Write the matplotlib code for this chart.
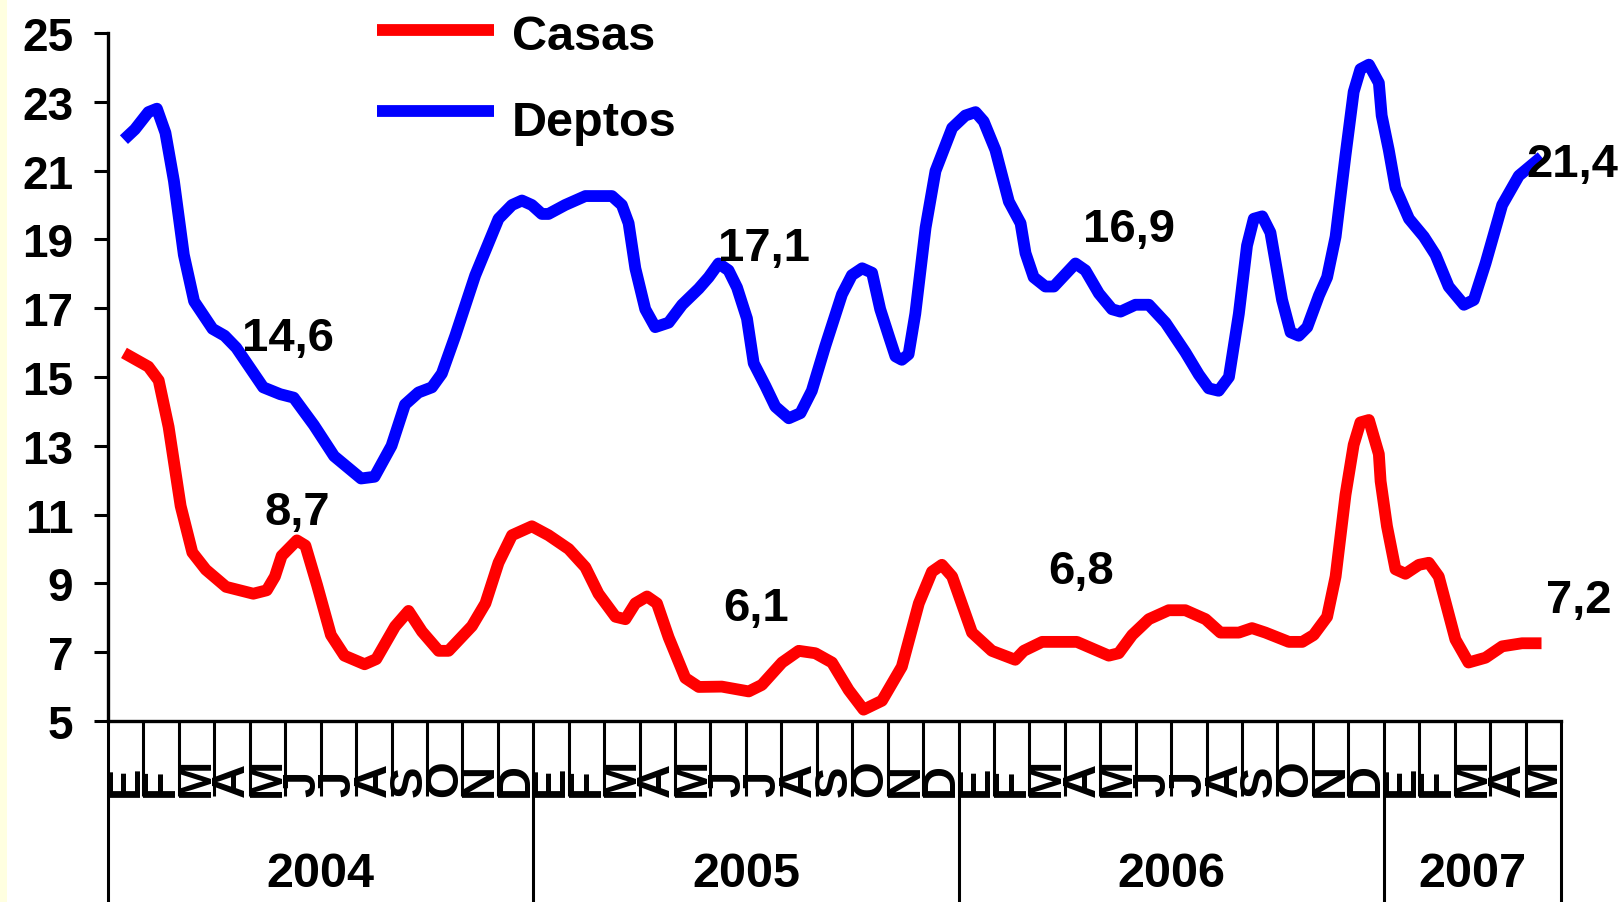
import numpy as np
import matplotlib
matplotlib.use("Agg")
import matplotlib.pyplot as plt
from matplotlib.lines import Line2D
from matplotlib.patches import Rectangle

# meses desde ene-2004 (0 = borde izquierdo) y valores
deptos_t = [0.45, 0.76, 1.14, 1.38, 1.62, 1.86, 2.14, 2.43, 2.95, 3.29, 3.62, 4.38, 4.86,
            5.24, 5.81, 6.38, 7.14, 7.52, 8.0, 8.38, 8.76, 9.14, 9.42, 9.8, 10.36, 11.02,
            11.4, 11.68, 11.96, 12.24, 12.43, 12.9, 13.47, 14.22, 14.5, 14.69, 14.88, 15.16,
            15.44, 15.82, 16.2, 16.67, 16.95, 17.23, 17.51, 17.75, 18.03, 18.22, 18.55,
            18.83, 19.21, 19.54, 19.86, 20.24, 20.71, 20.99, 21.28, 21.56, 21.79, 22.03,
            22.22, 22.4, 22.59, 22.78, 23.07, 23.35, 23.82, 24.19, 24.48, 24.71, 25.04,
            25.42, 25.75, 25.89, 26.12, 26.45, 26.69, 27.3, 27.58, 27.96, 28.33, 28.57,
            28.99, 29.37, 29.84, 30.4, 30.78, 31.06, 31.34, 31.63, 31.91, 32.14, 32.33,
            32.57, 32.8, 33.13, 33.37, 33.6, 33.84, 34.17, 34.4, 34.64, 34.92, 35.15, 35.34,
            35.58, 35.86, 35.94, 36.14, 36.33, 36.71, 37.13, 37.46, 37.83, 38.26, 38.54,
            38.87, 39.34, 39.81, 40.45]
deptos_v = [21.9, 22.2, 22.7, 22.8, 22.1, 20.7, 18.55, 17.2, 16.4, 16.2, 15.85, 14.7, 14.5,
            14.4, 13.6, 12.7, 12.05, 12.1, 13.0, 14.2, 14.55, 14.7, 15.1, 16.2, 17.95, 19.6,
            20.0, 20.13, 20.0, 19.74, 19.74, 20.0, 20.26, 20.26, 20.0, 19.47, 18.16, 16.97,
            16.45, 16.58, 17.1, 17.57, 17.9, 18.3, 18.1, 17.6, 16.7, 15.4, 14.74,
            14.14, 13.8, 13.95, 14.6, 15.9, 17.4, 17.96, 18.16, 18.03, 16.97, 16.2,
            15.6, 15.5, 15.66, 16.84, 19.34, 20.99, 22.24, 22.6, 22.7, 22.43, 21.6,
            20.1, 19.47, 18.6, 17.9, 17.63, 17.63, 18.3, 18.1, 17.43, 16.97, 16.9,
            17.1, 17.1, 16.58, 15.72, 15.07, 14.67, 14.6, 15.0, 16.84, 18.82, 19.6,
            19.67, 19.2, 17.24, 16.3, 16.2, 16.45, 17.37, 17.9, 19.08, 21.45, 23.29, 23.95,
            24.08, 23.55, 22.6, 21.6, 20.5, 19.6, 19.08, 18.55, 17.63, 17.1, 17.24,
            18.3, 20.0, 20.85, 21.4]

casas_t = [0.45, 1.14, 1.43, 1.71, 2.05, 2.38, 2.76, 3.33, 4.1, 4.48, 4.71, 4.9, 5.33, 5.57,
           5.9, 6.29, 6.67, 7.24, 7.57, 8.1, 8.48, 8.86, 9.33, 9.61, 10.27, 10.65, 11.02,
           11.4, 11.96, 12.43, 13.0, 13.47, 13.84, 14.32, 14.6, 14.88, 15.21, 15.49, 15.82,
           16.29, 16.67, 17.32, 18.08, 18.45, 19.02, 19.49, 19.96, 20.43, 20.9, 21.32,
           21.84, 22.4, 22.88, 23.25, 23.53, 23.82, 24.38, 24.94, 25.6, 25.84, 26.36,
           27.34, 28.24, 28.52, 28.9, 29.37, 29.93, 30.4, 30.97, 31.39, 31.91, 32.28,
           32.66, 33.32, 33.7, 34.02, 34.4, 34.64, 34.92, 35.15, 35.34, 35.58, 35.86,
           35.91, 36.09, 36.33, 36.61, 36.99, 37.27, 37.55, 38.02, 38.39, 38.87, 39.34,
           39.9, 40.45]
casas_v = [15.7, 15.3, 14.9, 13.55, 11.25, 9.9, 9.4, 8.9, 8.7, 8.8, 9.2, 9.8, 10.25, 10.1,
           8.95, 7.5, 6.9, 6.65, 6.8, 7.75, 8.2, 7.6, 7.04, 7.04, 7.76, 8.42, 9.6,
           10.4, 10.66, 10.4, 10.0, 9.47, 8.7, 8.03, 7.96, 8.42, 8.62, 8.42, 7.43,
           6.25, 5.99, 6.0, 5.86, 6.05, 6.7, 7.04, 6.97, 6.7, 5.9, 5.33,
           5.59, 6.58, 8.42, 9.34, 9.54, 9.2, 7.57, 7.04, 6.78, 7.04, 7.3,
           7.3, 6.9, 6.97, 7.5, 7.96, 8.22, 8.22, 7.96, 7.57, 7.57, 7.7,
           7.57, 7.3, 7.3, 7.5, 8.03, 9.2, 11.58, 13.03, 13.68, 13.75, 12.76,
           11.97, 10.66, 9.41, 9.28, 9.54, 9.6, 9.2, 7.37, 6.7, 6.84, 7.17,
           7.26, 7.26]

meses = ["E", "F", "M", "A", "M", "J", "J", "A", "S", "O", "N", "D"] * 3 + ["E", "F", "M", "A", "M"]
anios = ["2004", "2005", "2006", "2007"]
anio_limites = [0, 12, 24, 36, 41]

# etiquetas de valores (texto, mes, valor)
etiquetas = [("14,6", 5.07, 16.12), ("17,1", 18.5, 18.75), ("16,9", 28.8, 19.3),
             ("21,4", 41.33, 21.2), ("8,7", 5.35, 11.08), ("6,1", 18.3, 8.28),
             ("6,8", 27.45, 9.37), ("7,2", 41.5, 8.52)]

plt.rcParams["font.family"] = ["Liberation Sans", "DejaVu Sans"]
plt.rcParams["font.weight"] = "bold"

W, H = 1621, 903
fig = plt.figure(figsize=(W / 100, H / 100), dpi=100)
fig.patch.set_facecolor("white")
fig.patches.append(Rectangle((0, 0), 7 / W, 1, transform=fig.transFigure,
                             facecolor="#FFFFE0", edgecolor="none", zorder=0))

x0, x1, ytop, ybot = 108, 1561, 34, 722
ax = fig.add_axes([x0 / W, 1 - ybot / H, (x1 - x0) / W, (ybot - ytop) / H])
ax.set_xlim(0, 41)
ax.set_ylim(5, 25)

LW = 8.5
ax.plot(casas_t, casas_v, color="#FF0000", lw=LW, solid_joinstyle="round",
        solid_capstyle="butt", clip_on=False)
ax.plot(deptos_t, deptos_v, color="#0000FF", lw=LW, solid_joinstyle="round",
        solid_capstyle="butt", clip_on=False)

for s in ["top", "right"]:
    ax.spines[s].set_visible(False)
for s in ["left", "bottom"]:
    ax.spines[s].set_linewidth(2.4)
    ax.spines[s].set_color("black")

ax.set_yticks(np.arange(5, 26, 2))
ax.set_yticklabels([str(v) for v in range(5, 26, 2)], fontsize=33, fontweight="bold")
ax.tick_params(axis="y", direction="out", length=10, width=2.2, pad=15)

# limites de anios (mayores) y de meses (menores)
ax.set_xticks(anio_limites)
ax.set_xticks([m for m in range(1, 41) if m not in anio_limites], minor=True)
ax.tick_params(axis="x", which="major", direction="out", length=(H - ybot) * 0.72, width=2.2,
               labelbottom=False)
ax.tick_params(axis="x", which="minor", direction="out", length=(797 - ybot) * 0.72, width=2.2,
               labelbottom=False)

trans = ax.get_xaxis_transform()
hax = ybot - ytop
for i, m in enumerate(meses):
    ax.text(i + 0.5, (ybot - 797) / hax, m, rotation=90, ha="center", va="bottom",
            fontsize=34, fontweight="bold", transform=trans, clip_on=False)
for k, a in enumerate(anios):
    xc = (anio_limites[k] + anio_limites[k + 1]) / 2
    ax.text(xc, (ybot - 875) / hax, a, ha="center", va="center", fontsize=35,
            fontweight="bold", transform=trans, clip_on=False)

for txt, m, v in etiquetas:
    ax.text(m, v, txt, ha="center", va="center", fontsize=34, fontweight="bold", clip_on=False)

# leyenda manual
for yl, yt, col, lab in [(31, 37, "#FF0000", "Casas"), (112, 123, "#0000FF", "Deptos")]:
    fig.add_artist(Line2D([377 / W, 494 / W], [1 - yl / H, 1 - yl / H], color=col, lw=LW,
                          solid_capstyle="butt", transform=fig.transFigure))
    fig.text(512 / W, 1 - yt / H, lab, ha="left", va="center", fontsize=35,
             fontweight="bold")

fig.savefig("out.png", dpi=100)
